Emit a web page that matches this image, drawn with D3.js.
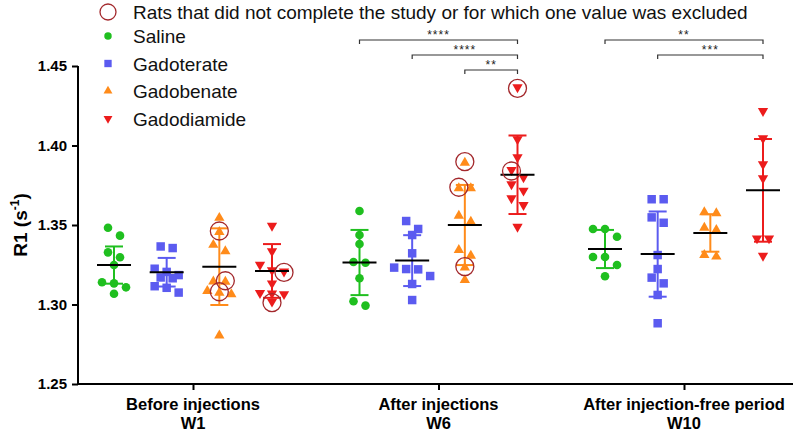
<!DOCTYPE html>
<html><head><meta charset="utf-8">
<script src="https://cdn.jsdelivr.net/npm/d3@7"></script>
<style>body{margin:0;background:#fff}svg{display:block}text{font-family:"Liberation Sans",Arial,Helvetica,sans-serif}</style>
</head><body><svg id="c" width="800" height="432"></svg>
<script>
// ---------- DATA ----------
const weeks = ["W1","W6","W10"];
const weekLine1 = ["Before injections","After injections","After injection-free period"];
const weekLine2 = ["W1","W6","W10"];
const treatments = ["Saline","Gadoterate","Gadobenate","Gadodiamide"];
const yTicks = [1.25,1.30,1.35,1.40,1.45];
const legendNote = "Rats that did not complete the study or for which one value was excluded";

const saline = [
  [1.3483,1.3433,1.3328,1.3297,1.3248,1.3140,1.3133,1.3108,1.3068],
  [1.3588,1.3437,1.3380,1.3267,1.3263,1.3165,1.3020,1.2993],
  [1.3475,1.3475,1.3426,1.3299,1.3299,1.3248,1.3178]
];
const gadoterate = [
  [1.3365,1.3355,1.3225,1.3205,1.3185,1.3170,1.3165,1.3115,1.3105,1.3075],
  [1.3525,1.3475,1.3437,1.3322,1.3232,1.3223,1.3221,1.3179,1.3129,1.3028],
  [1.3662,1.3662,1.3548,1.3514,1.3311,1.3223,1.3169,1.3133,1.3060,1.2882]
];
const gadobenate = [
  [1.3545,1.3456,1.3375,1.3335,1.3145,1.3143,1.3085,1.3074,1.3065,1.2805],
  [1.3892,1.3731,1.3731,1.3558,1.3521,1.3343,1.3307,1.3232,1.3154],
  [1.3580,1.3574,1.3483,1.3469,1.3311,1.3301]
];
const gadodiamide = [
  [1.3495,1.3335,1.3250,1.3215,1.3208,1.3133,1.3072,1.3070,1.3065,1.3018],
  [1.4366,1.4039,1.3926,1.3846,1.3800,1.3756,1.3716,1.3668,1.3626,1.3489],
  [1.4217,1.4045,1.3882,1.3794,1.3416,1.3416,1.3307]
];
const means = {
  Saline:[1.3248,1.3264,1.3349],
  Gadoterate:[1.3203,1.3276,1.3317],
  Gadobenate:[1.3238,1.3500,1.3450],
  Gadodiamide:[1.3211,1.3816,1.3718]
};
const sds = {
  Saline:[0.0117,0.0205,0.0120],
  Gadoterate:[0.0090,0.0160,0.0268],
  Gadobenate:[0.0241,0.0252,0.0118],
  Gadodiamide:[0.0169,0.0247,0.0323]
};
const gadobenateExcluded = [[1.3456,1.3143,1.3074],[1.3892,1.3731,1.3232],[]];
const gadodiamideExcluded = [[1.3208,1.3018],[1.4366,1.3846],[]];
const sigW6 = [["Saline","Gadodiamide","****"],["Gadoterate","Gadodiamide","****"],["Gadobenate","Gadodiamide","**"]];
const sigW10 = [["Saline","Gadodiamide","**"],["Gadoterate","Gadodiamide","***"]];

// ---------- STYLE ----------
const colors = {Saline:"#1fbf1f",Gadoterate:"#5b5bf0",Gadobenate:"#ff8b1a",Gadodiamide:"#ec1c1c"};
const ringColor = "#a3282c";
const seriesValues = {Saline:saline,Gadoterate:gadoterate,Gadobenate:gadobenate,Gadodiamide:gadodiamide};
const excluded = {Gadobenate:gadobenateExcluded,Gadodiamide:gadodiamideExcluded};

const svg = d3.select("#c");
const y = d3.scaleLinear().domain([1.25,1.45]).range([384,66]);
const x = d3.scalePoint().domain(weeks).range([193,684]);
const sub = d3.scalePoint().domain(treatments).range([-79,79]);
const X0 = 78, XEND = 793;

function symbolPath(t,k){
  k = k||1;
  if(t==="Saline") return d3.symbol(d3.symbolCircle,58*k)();
  if(t==="Gadoterate") return d3.symbol(d3.symbolSquare,72*k)();
  return d3.symbol(d3.symbolTriangle,46*k)();
}
function rot(t){return t==="Gadodiamide"?" rotate(180)":"";}

// beeswarm-like row layout
function layout(vals){
  const pts = vals.map((v,i)=>({v,i,py:y(v)})).sort((a,b)=>a.py-b.py);
  const rows=[]; let cur=null;
  pts.forEach(p=>{
    if(cur && p.py-cur[0].py < 8.5) cur.push(p); else {cur=[p]; rows.push(cur);}
  });
  rows.forEach(r=>r.forEach((p,k)=>{p.dx=(k-(r.length-1)/2)*12;}));
  return pts;
}

// axes
const yAxis = d3.axisLeft(y).tickValues(yTicks).tickFormat(d3.format(".2f")).tickSize(6).tickPadding(5);
const gy = svg.append("g").attr("transform",`translate(${X0},0)`).call(yAxis);
gy.select(".domain").attr("stroke","#000").attr("stroke-width",2).attr("d",`M0,${y(1.45)}V${y(1.25)}`);
gy.selectAll(".tick line").attr("stroke","#000").attr("stroke-width",2);
gy.selectAll(".tick text").attr("font-size",15).attr("font-weight","bold").attr("fill","#000")
  .attr("font-family","Liberation Sans, Arial, sans-serif");

const xAxis = d3.axisBottom(x).tickSize(6).tickFormat("");
const gx = svg.append("g").attr("transform",`translate(0,${y(1.25)})`).call(xAxis);
gx.select(".domain").attr("stroke","#000").attr("stroke-width",2).attr("d",`M${X0-1},0H${XEND}`);
gx.selectAll(".tick line").attr("stroke","#000").attr("stroke-width",2);

weeks.forEach((w,i)=>{
  const t = svg.append("text").attr("x",x(w)).attr("text-anchor","middle")
    .attr("font-size",16.5).attr("font-weight","bold").attr("fill","#000");
  t.append("tspan").attr("x",x(w)).attr("y",410).text(weekLine1[i]);
  t.append("tspan").attr("x",x(w)).attr("y",429).text(weekLine2[i]);
});

// y title
const yt = svg.append("text").attr("transform","translate(27,225) rotate(-90)").attr("text-anchor","middle")
  .attr("font-size",19).attr("font-weight","bold").attr("fill","#000");
yt.append("tspan").text("R1 (s");
yt.append("tspan").attr("font-size",12).attr("dy",-8).text("-1");
yt.append("tspan").attr("dy",8).text(")");

// data
const plot = svg.append("g");
weeks.forEach((w,wi)=>{
  treatments.forEach(t=>{
    const cx = x(w)+sub(t);
    const col = colors[t];
    const m = means[t][wi], s = sds[t][wi];
    const g = plot.append("g");
    g.append("line").attr("x1",cx).attr("x2",cx).attr("y1",y(m+s)).attr("y2",y(m-s)).attr("stroke",col).attr("stroke-width",2);
    [m+s,m-s].forEach(v=>g.append("line").attr("x1",cx-9).attr("x2",cx+9).attr("y1",y(v)).attr("y2",y(v)).attr("stroke",col).attr("stroke-width",2));
    const pts = layout(seriesValues[t][wi]);
    g.selectAll("path.pt").data(pts).join("path").attr("class","pt")
      .attr("d",symbolPath(t)).attr("fill",col)
      .attr("transform",p=>`translate(${cx+p.dx},${p.py})${rot(t)}`);
    g.append("line").attr("x1",cx-17).attr("x2",cx+17).attr("y1",y(m)).attr("y2",y(m)).attr("stroke","#000").attr("stroke-width",2);
    if(excluded[t]){
      const used=new Set();
      excluded[t][wi].forEach(v=>{
        const p = pts.find(q=>!used.has(q) && Math.abs(q.v-v)<1e-9);
        if(!p) return; used.add(p);
        g.append("circle").attr("cx",cx+p.dx).attr("cy",p.py+(t==="Gadobenate"?-1:(t==="Gadodiamide"?1:0))).attr("r",9)
          .attr("fill","none").attr("stroke",ringColor).attr("stroke-width",1.3);
      });
    }
  });
});

// significance brackets
function brackets(w,list){
  list.forEach((b,k)=>{
    const x1 = x(w)+sub(b[0]), x2 = x(w)+sub(b[1]);
    const by = 40 + k*15;
    svg.append("path").attr("d",`M${x1},${by+4}V${by}H${x2}V${by+4}`).attr("fill","none").attr("stroke","#333").attr("stroke-width",1.2);
    svg.append("text").attr("x",(x1+x2)/2).attr("y",by-1).attr("text-anchor","middle").attr("font-size",12)
      .attr("letter-spacing",1).attr("fill","#222").text(b[2]);
  });
}
brackets("W6",sigW6);
brackets("W10",sigW10);

// legend
const lg = svg.append("g");
const lx = 108, ltx = 133;
const legendRows = [12,36,63.5,91,118.5];
lg.append("circle").attr("cx",lx).attr("cy",legendRows[0]).attr("r",8).attr("fill","none").attr("stroke",ringColor).attr("stroke-width",1.3);
lg.append("text").attr("x",ltx).attr("y",legendRows[0]+7).attr("font-size",19).attr("fill","#111").text(legendNote);
treatments.forEach((t,i)=>{
  const ly = legendRows[i+1];
  lg.append("path").attr("d",symbolPath(t,0.75)).attr("fill",colors[t]).attr("transform",`translate(${lx},${ly})${rot(t)}`);
  lg.append("text").attr("x",ltx).attr("y",ly+7).attr("font-size",19).attr("fill","#111").text(t);
});
</script></body></html>
